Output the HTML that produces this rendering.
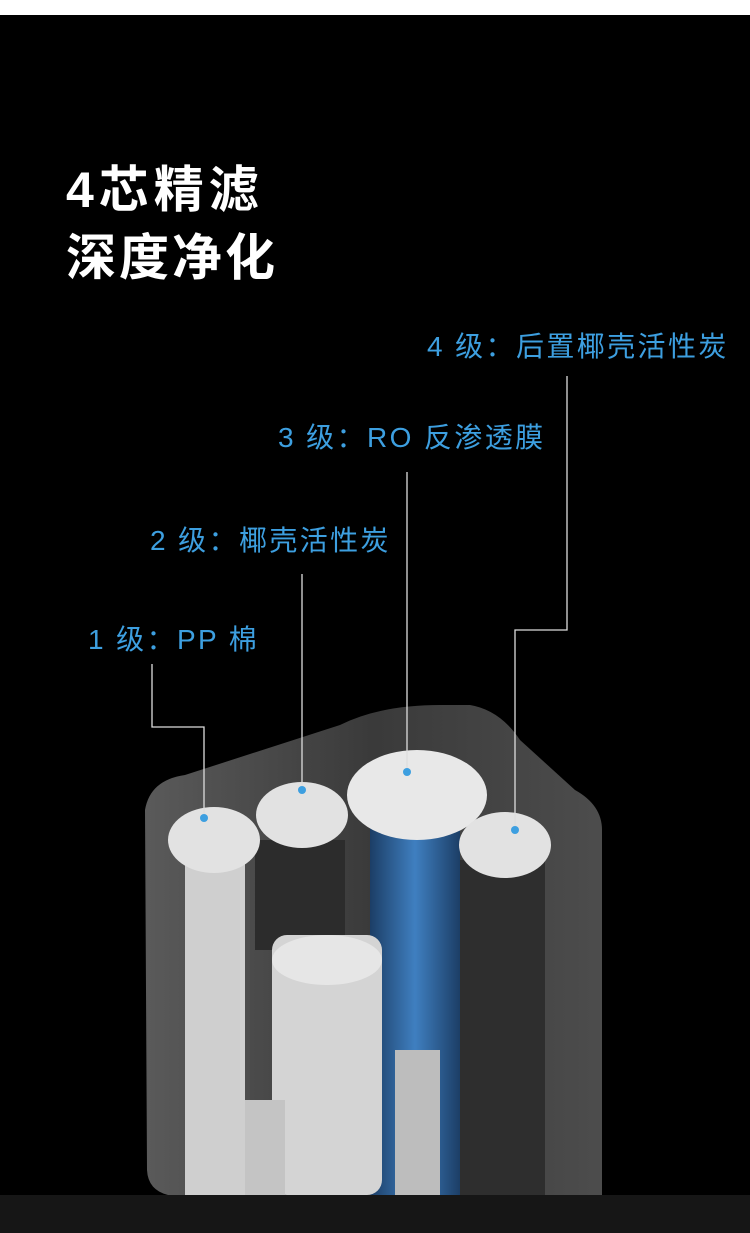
<!DOCTYPE html>
<html><head><meta charset="utf-8"><style>
body{margin:0;width:750px;height:1233px;overflow:hidden;background:#000;font-family:"Liberation Sans","Noto Sans CJK SC",sans-serif;position:relative}
.t{position:absolute;color:#fff;font-weight:bold;font-size:50px;left:66px;line-height:1;letter-spacing:3px}
.l{position:absolute;color:#3d9fe0;font-size:28px;line-height:1;white-space:nowrap;letter-spacing:2.4px}
</style></head><body>
<div style="position:absolute;left:0;top:0;width:750px;height:15px;background:#fff"></div>
<div style="position:absolute;left:0;top:1195px;width:750px;height:38px;background:#161616"></div>
<div class="t" style="top:165px;letter-spacing:5px">4芯精滤</div>
<div class="t" style="top:233px">深度净化</div>
<div class="l" style="left:427px;top:333px">4 级：后置椰壳活性炭</div>
<div class="l" style="left:278px;top:424px">3 级：RO 反渗透膜</div>
<div class="l" style="left:150px;top:527px">2 级：椰壳活性炭</div>
<div class="l" style="left:88px;top:626px">1 级：PP 棉</div>
<svg width="750" height="1233" style="position:absolute;left:0;top:0">
<defs>
<linearGradient id="box" x1="0" x2="1"><stop offset="0" stop-color="#6a6a6a"/><stop offset="0.5" stop-color="#444"/><stop offset="1" stop-color="#5a5a5a"/></linearGradient>
<linearGradient id="blue" x1="0" x2="1"><stop offset="0" stop-color="#1c3e66"/><stop offset="0.5" stop-color="#3f7fc0"/><stop offset="1" stop-color="#1c3e66"/></linearGradient>
</defs>
<path d="M145 810 Q150 780 185 775 L340 725 Q380 705 440 705 L470 705 Q500 710 520 740 L575 790 Q602 805 602 830 L602 1195 L168 1195 Q148 1190 147 1170 Z" fill="url(#box)" opacity="0.85"/>
<rect x="370" y="815" width="90" height="380" fill="url(#blue)"/>
<rect x="460" y="860" width="85" height="335" fill="#2e2e2e"/>
<rect x="255" y="840" width="90" height="110" fill="#2c2c2c"/>
<rect x="185" y="860" width="60" height="335" fill="#cfcfcf"/>
<rect x="272" y="935" width="110" height="260" rx="15" fill="#d4d4d4"/>
<ellipse cx="327" cy="960" rx="55" ry="25" fill="#e6e6e6"/>
<rect x="395" y="1050" width="45" height="145" fill="#bdbdbd"/>
<rect x="245" y="1100" width="40" height="95" fill="#c4c4c4"/>
<ellipse cx="214" cy="840" rx="46" ry="33" fill="#e2e2e2"/>
<ellipse cx="302" cy="815" rx="46" ry="33" fill="#e2e2e2"/>
<ellipse cx="417" cy="795" rx="70" ry="45" fill="#e8e8e8"/>
<ellipse cx="505" cy="845" rx="46" ry="33" fill="#e2e2e2"/>
<g fill="none" stroke="#ddd" stroke-width="1.3">
<polyline points="567,376 567,630 515,630 515,830"/>
<polyline points="407,472 407,772"/>
<polyline points="302,574 302,790"/>
<polyline points="152,664 152,727 204,727 204,818"/>
</g>
<g fill="#3d9fe0"><circle cx="515" cy="830" r="4"/><circle cx="407" cy="772" r="4"/><circle cx="302" cy="790" r="4"/><circle cx="204" cy="818" r="4"/></g>
</svg>
</body></html>
